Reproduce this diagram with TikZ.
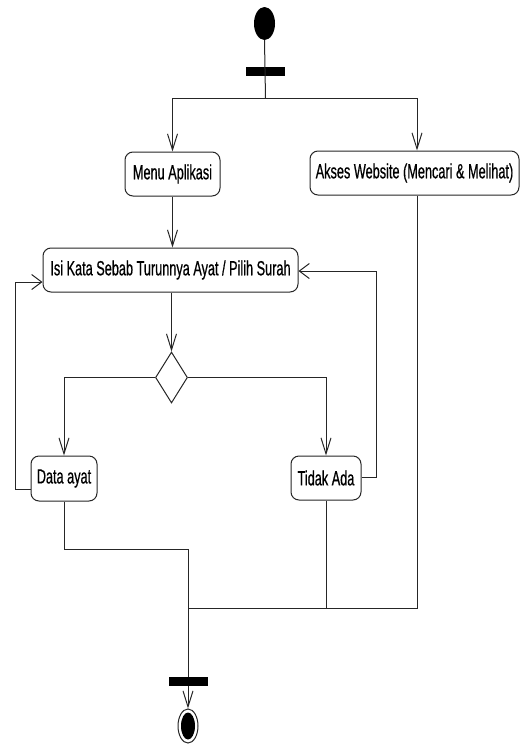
\documentclass[tikz,border=0pt]{standalone}
\usepackage{fontspec}
\setmainfont{Liberation Sans}[FakeStretch=0.62,FakeBold=0.6]
\usetikzlibrary{arrows.meta,shapes.geometric}
\begin{document}
\begin{tikzpicture}[x=1pt,y=-1pt,
  flow/.style={draw=black!85, line width=1pt},
  act/.style={draw=black!85, line width=1pt, rounded corners=8pt, rectangle,
    inner sep=0pt, font=\fontsize{20.5}{22}\selectfont, fill=white},
  vtip/.style={-{Straight Barb[length=16pt,width=10pt,line width=1pt]}},
  htip/.style={-{Straight Barb[length=10pt,width=15pt,line width=1pt]}},
  syncbar/.style={fill=black, rectangle, inner sep=0pt, minimum width=39pt, minimum height=9pt}
]
\useasboundingbox (0,0) rectangle (521,745);

% initial state and fork
\node[ellipse, fill=black, minimum width=21pt, minimum height=33pt, inner sep=0pt] (start) at (264.5,23.5) {};
\node[syncbar] (fork) at (265.5,71.5) {};
\coordinate (split) at (265.5,98);
\coordinate (splitL) at (172.5,98);
\coordinate (splitR) at (417,98);

% activities
\node[act, minimum width=95pt, minimum height=44pt] (menu) at (172.5,174) {Menu Aplikasi};
\node[act, minimum width=209pt, minimum height=44pt] (akses) at (414.5,173) {Akses Website (Mencari \& Melihat)};
\node[act, minimum width=255pt, minimum height=44pt] (isi) at (170.5,270) {Isi Kata Sebab Turunnya Ayat / Pilih Surah};
\node[diamond, draw=black!85, line width=1pt, minimum width=32pt, minimum height=51pt, inner sep=0pt] (dec) at (171.5,377.5) {};
\node[act, minimum width=66pt, minimum height=45pt] (data) at (64,478.5) {Data ayat};
\node[act, minimum width=70pt, minimum height=44pt] (tidak) at (326,478) {Tidak Ada};

% join and final state
\node[syncbar] (join) at (188,681.5) {};
\node[ellipse, draw=black!85, line width=1pt, fill=white, minimum width=20pt, minimum height=34pt, inner sep=0pt] (final) at (188,726) {};
\node[ellipse, fill=black, minimum width=14pt, minimum height=27pt, inner sep=0pt] (finalcore) at (188,726) {};

% bend points
\coordinate (loopL) at (15.5,489);
\coordinate (loopLtop) at (15.5,282);
\coordinate (loopR) at (376,477);
\coordinate (loopRtop) at (376,271);
\coordinate (mergeA) at (64,549);
\coordinate (mergeB) at (188,549);
\coordinate (mergeC) at (188,608);

% connectors
\draw[flow] (start.south) -- (split);
\draw[flow] (splitL) -- (splitR);
\draw[flow,vtip] (splitL) -- (menu.north);
\draw[flow,vtip] (splitR) -- (splitR |- akses.north);
\draw[flow,vtip] (menu.south) -- (menu.south |- isi.north);
\draw[flow,vtip] (dec.north |- isi.south) -- (dec.north);
\draw[flow,vtip] (dec.west) -| (data.north);
\draw[flow,vtip] (dec.east) -| (tidak.north);
\draw[flow,htip] (data.west |- loopL) -- (loopL) -- (loopLtop) -- (isi.west |- loopLtop);
\draw[flow,htip] (tidak.east |- loopR) -- (loopR) -- (loopRtop) -- (isi.east |- loopRtop);
\draw[flow] (data.south) -- (mergeA) -- (mergeB) -- (join.north);
\draw[flow] (tidak.south) -- (tidak.south |- mergeC);
\draw[flow] (splitR |- akses.south) -- (splitR |- mergeC) -- (mergeC);
\draw[flow,vtip] (join.south) -- (final.north);
\end{tikzpicture}
\end{document}
